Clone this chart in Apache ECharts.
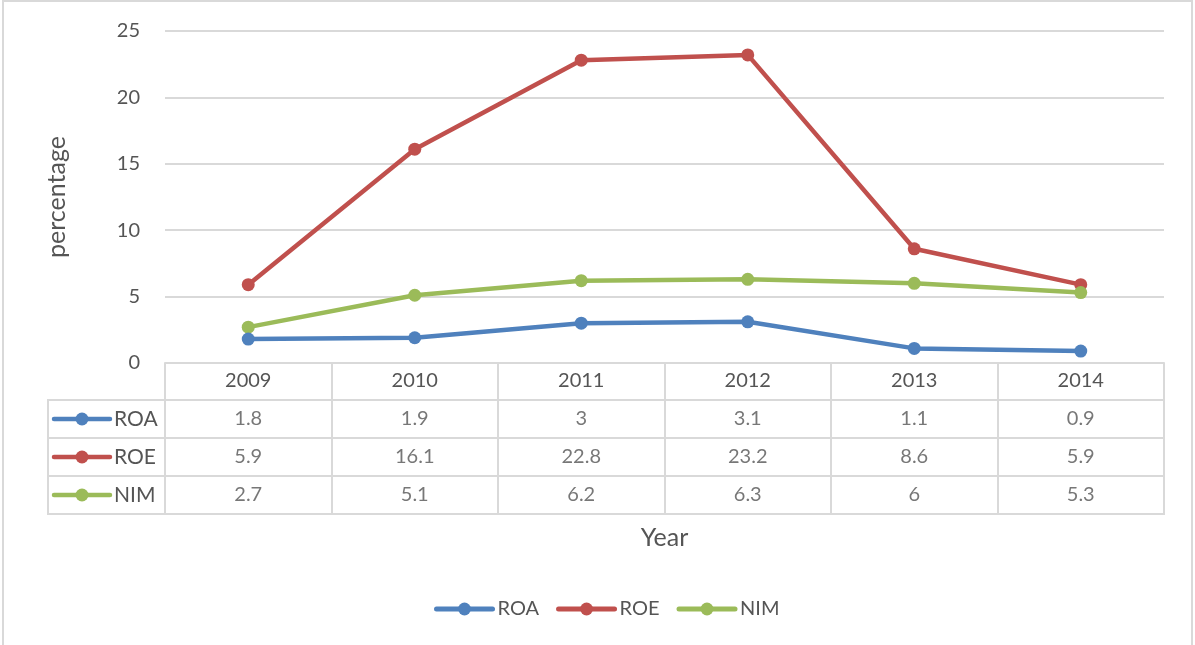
<!DOCTYPE html>
<html>
<head>
<meta charset="utf-8">
<script src="https://cdn.jsdelivr.net/npm/echarts@6/dist/echarts.min.js"></script>
<style>
html,body{margin:0;padding:0;background:#fff;}
#chart{width:1195px;height:645px;}
</style>
</head>
<body>
<div id="chart"></div>
<script>
const years = ['2009', '2010', '2011', '2012', '2013', '2014'];
const seriesNames = ['ROA', 'ROE', 'NIM'];
const roa = [1.8, 1.9, 3, 3.1, 1.1, 0.9];
const roe = [5.9, 16.1, 22.8, 23.2, 8.6, 5.9];
const nim = [2.7, 5.1, 6.2, 6.3, 6, 5.3];
const yMin = 0, yMax = 25, yStep = 5;
const yTitle = 'percentage';
const xTitle = 'Year';

const values = [roa, roe, nim];
const colors = ['#4f81bd', '#c0504d', '#9bbb59'];
const FONT = 'Lato';
const TXT = '#555555';
const GRID = '#d9d9d9';

const mainSeries = seriesNames.map((n, k) => ({
  name: n, type: 'line', xAxisIndex: 0, yAxisIndex: 0,
  data: values[k], color: colors[k],
  symbol: 'circle', symbolSize: 13,
  lineStyle: { width: 4.5, color: colors[k] },
  itemStyle: { color: colors[k] },
  z: 5 + (k === 0 ? 2 : k === 2 ? 1 : 0)
}));

const cellData = [];
seriesNames.forEach((n, k) => values[k].forEach((v, i) => cellData.push([years[i], n, v])));
const cellSeries = {
  type: 'scatter', xAxisIndex: 1, yAxisIndex: 1, silent: true,
  data: cellData, symbolSize: 1, itemStyle: { color: 'rgba(0,0,0,0)' },
  label: { show: true, position: 'inside', formatter: p => String(p.value[2]),
    fontFamily: FONT, fontSize: 20, color: TXT }
};

const keySeries = seriesNames.map((n, k) => ({
  name: n + '_key', type: 'line', xAxisIndex: 2, yAxisIndex: 2, silent: true,
  data: [{ value: [6, n], symbol: 'none' }, { value: [34, n] }, { value: [62, n], symbol: 'none' }],
  symbol: 'circle', symbolSize: 13,
  lineStyle: { width: 4.5, color: colors[k], cap: 'round' },
  itemStyle: { color: colors[k] }
}));

const chart = echarts.init(document.getElementById('chart'), null, { renderer: 'canvas' });
chart.setOption({
  animation: false,
  textStyle: { fontFamily: FONT },
  graphic: [{ type: 'rect', shape: { x: 3, y: 1, width: 1189, height: 700 },
    style: { fill: 'none', stroke: GRID, lineWidth: 2 }, silent: true }],
  legend: {
    data: seriesNames, left: 429, top: 594, itemWidth: 56, itemHeight: 16, itemGap: 17,
    lineStyle: { width: 5, cap: 'round' },
    textStyle: { fontFamily: FONT, fontSize: 20, color: TXT }
  },
  grid: [
    { left: 165, right: 31, top: 31, height: 332, containLabel: false },
    { left: 165, right: 31, top: 400, height: 114, show: true, borderColor: GRID, borderWidth: 2 },
    { left: 48, width: 117, top: 400, height: 114, show: true, borderColor: GRID, borderWidth: 2 }
  ],
  xAxis: [
    { type: 'category', gridIndex: 0, data: years, boundaryGap: true,
      axisLine: { show: true, lineStyle: { color: GRID, width: 2 } },
      axisTick: { show: false }, axisLabel: { show: false },
      name: xTitle, nameLocation: 'middle', nameGap: 162,
      nameTextStyle: { fontFamily: FONT, fontSize: 25, color: TXT } },
    { type: 'category', gridIndex: 1, data: years, boundaryGap: true, position: 'top',
      axisLine: { show: true, lineStyle: { color: GRID, width: 2 } },
      axisTick: { show: true, interval: 0, length: 37, lineStyle: { color: GRID, width: 2 } },
      axisLabel: { show: true, margin: 9, fontFamily: FONT, fontSize: 20, color: TXT },
      splitLine: { show: true, interval: 0, lineStyle: { color: GRID, width: 2 } } },
    { type: 'value', gridIndex: 2, min: 0, max: 117, show: false }
  ],
  yAxis: [
    { type: 'value', gridIndex: 0, min: yMin, max: yMax, interval: yStep,
      axisLine: { show: false }, axisTick: { show: false },
      axisLabel: { margin: 25, fontFamily: FONT, fontSize: 20, color: TXT },
      splitLine: { lineStyle: { color: GRID, width: 2 } },
      name: yTitle, nameLocation: 'middle', nameGap: 96, nameRotate: 90,
      nameTextStyle: { fontFamily: FONT, fontSize: 25, color: TXT } },
    { type: 'category', gridIndex: 1, data: seriesNames, inverse: true,
      axisLine: { show: false }, axisTick: { show: false }, axisLabel: { show: false },
      splitLine: { show: true, interval: 0, lineStyle: { color: GRID, width: 2 } } },
    { type: 'category', gridIndex: 2, data: seriesNames, inverse: true,
      axisLine: { show: false }, axisTick: { show: false },
      axisLabel: { show: true, inside: true, margin: 66, fontFamily: FONT, fontSize: 21, color: TXT },
      splitLine: { show: true, interval: 0, lineStyle: { color: GRID, width: 2 } } }
  ],
  series: [...keySeries, cellSeries, ...mainSeries]
});
</script>
</body>
</html>
